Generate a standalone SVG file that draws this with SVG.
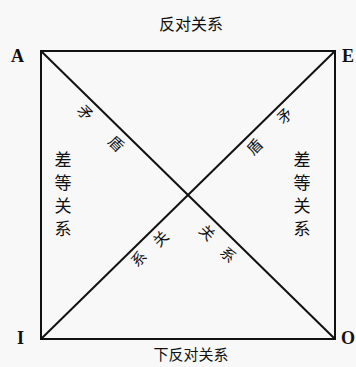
<svg xmlns="http://www.w3.org/2000/svg" width="356" height="367" viewBox="0 0 356 367">
<style>
.ln{stroke:#111;stroke-width:2;fill:none}
.lbl{font-family:"Noto Sans CJK SC","Noto Sans",sans-serif;fill:#111}
.t{font-size:16px;text-anchor:middle}
.b{font-size:15px;text-anchor:middle}
.s{font-size:17px;text-anchor:middle}
.d{font-size:15px;text-anchor:middle;dominant-baseline:central}
.v{font-family:"Liberation Serif",serif;font-size:18px;font-weight:bold;fill:#111}
</style>
<rect width="356" height="367" fill="#f8f8f8"/>
<g id="connectors">
<rect class="ln" x="41" y="51" width="294" height="288"/>
<line class="ln" x1="41" y1="51" x2="335" y2="339"/>
<line class="ln" x1="335" y1="51" x2="41" y2="339"/>
</g>
<g id="A"><text class="v" x="11" y="62">A</text></g>
<g id="E"><text class="v" x="342" y="62">E</text></g>
<g id="I"><text class="v" x="17" y="344">I</text></g>
<g id="O"><text class="v" x="341" y="344">O</text></g>
<g id="top-label"><text class="lbl t" x="191" y="30">反对关系</text></g>
<g id="bottom-label"><text class="lbl b" x="191" y="360">下反对关系</text></g>
<g id="left-label" class="lbl">
<text class="s" x="63" y="166">差</text>
<text class="s" x="63" y="189">等</text>
<text class="s" x="63" y="212">关</text>
<text class="s" x="63" y="235">系</text>
</g>
<g id="right-label" class="lbl">
<text class="s" x="302" y="166">差</text>
<text class="s" x="302" y="189">等</text>
<text class="s" x="302" y="212">关</text>
<text class="s" x="302" y="235">系</text>
</g>
<g id="contradiction-AO" class="lbl">
<text class="d" transform="translate(86,112) rotate(45)">矛</text>
<text class="d" transform="translate(117,143) rotate(45)">盾</text>
<text class="d" transform="translate(208,232) rotate(45)">关</text>
<text class="d" transform="translate(229,254) rotate(45)">系</text>
</g>
<g id="contradiction-EI" class="lbl">
<text class="d" transform="translate(284,115) rotate(-45)">矛</text>
<text class="d" transform="translate(254,146) rotate(-45)">盾</text>
<text class="d" transform="translate(160,238) rotate(-45)">关</text>
<text class="d" transform="translate(138,258) rotate(-45)">系</text>
</g>
</svg>
